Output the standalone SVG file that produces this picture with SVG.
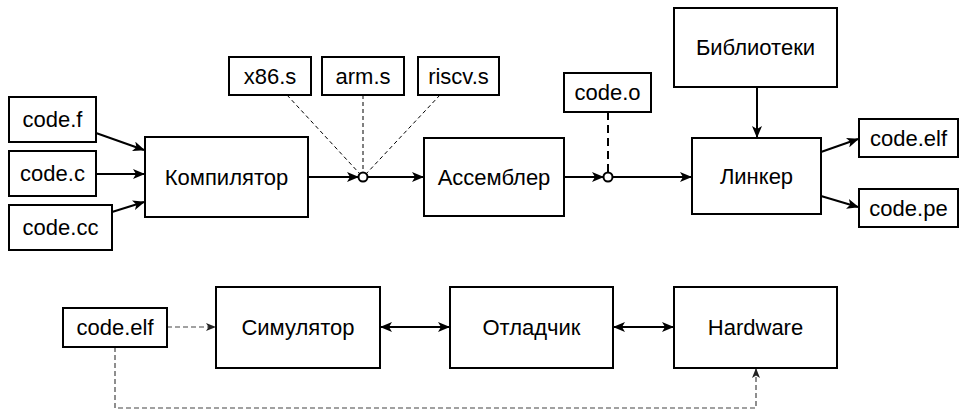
<svg xmlns="http://www.w3.org/2000/svg" width="961" height="411" viewBox="0 0 961 411">
<style>
.box{fill:#fff;stroke:#000;stroke-width:2}
.t{font-family:"Liberation Sans",Arial,sans-serif;font-size:22px;fill:#000;text-anchor:middle;dominant-baseline:central}
.a{fill:none;stroke:#000;stroke-width:2}
.d{fill:none;stroke:#000;stroke-width:1;stroke-dasharray:4 3}
.dd{fill:none;stroke:#000;stroke-width:2;stroke-dasharray:8 5}
.gd{fill:none;stroke:#444;stroke-width:1.2;stroke-dasharray:5 3}
.j{fill:#fff;stroke:#000;stroke-width:2}
</style>
<defs>
<marker id="ar" viewBox="0 0 12 10" refX="11" refY="5" markerWidth="12" markerHeight="10" markerUnits="userSpaceOnUse" orient="auto-start-reverse">
<path d="M0,0 L12,5 L0,10 L3,5 Z" fill="#000"/>
</marker>
<marker id="ars" viewBox="0 0 10 8" refX="9" refY="4" markerWidth="10" markerHeight="8" markerUnits="userSpaceOnUse" orient="auto-start-reverse">
<path d="M0,0 L10,4 L0,8 L2.5,4 Z" fill="#222"/>
</marker>
</defs>
<g id="connectors">
<line class="a" x1="96" y1="133" x2="144" y2="150" marker-end="url(#ar)"/>
<line class="a" x1="96" y1="174" x2="144" y2="174" marker-end="url(#ar)"/>
<line class="a" x1="112" y1="212" x2="144" y2="202" marker-end="url(#ar)"/>
<line class="a" x1="308" y1="177" x2="358" y2="177" marker-end="url(#ar)"/>
<line class="a" x1="368" y1="177" x2="423" y2="177" marker-end="url(#ar)"/>
<line class="d" x1="287" y1="95" x2="360" y2="174"/>
<line class="d" x1="363" y1="95" x2="363" y2="172"/>
<line class="d" x1="440" y1="95" x2="366" y2="174"/>
<line class="a" x1="564" y1="177" x2="603" y2="177" marker-end="url(#ar)"/>
<line class="a" x1="613" y1="177" x2="691" y2="177" marker-end="url(#ar)"/>
<line class="dd" x1="608" y1="112" x2="608" y2="172"/>
<line class="a" x1="757" y1="87" x2="757" y2="137" marker-end="url(#ar)"/>
<line class="a" x1="821" y1="152" x2="858" y2="139" marker-end="url(#ar)"/>
<line class="a" x1="821" y1="196" x2="858" y2="207" marker-end="url(#ar)"/>
<line class="gd" x1="167" y1="327" x2="215" y2="327" marker-end="url(#ars)"/>
<line class="a" x1="381" y1="327" x2="449" y2="327" marker-start="url(#ar)" marker-end="url(#ar)"/>
<line class="a" x1="614" y1="327" x2="673" y2="327" marker-start="url(#ar)" marker-end="url(#ar)"/>
<polyline class="gd" points="115,347 115,408 756,408 756,369" marker-end="url(#ars)"/>
<circle class="j" cx="363" cy="177" r="4.5"/>
<circle class="j" cx="608" cy="177" r="4.5"/>
</g>
<g id="code_f"><rect class="box" x="9" y="97" width="87" height="45"/><text class="t" x="52.5" y="119.5">code.f</text></g>
<g id="code_c"><rect class="box" x="9" y="151" width="87" height="45"/><text class="t" x="52.5" y="173.5">code.c</text></g>
<g id="code_cc"><rect class="box" x="9" y="205" width="103" height="45"/><text class="t" x="60.5" y="227.5">code.cc</text></g>
<g id="compiler"><rect class="box" x="145" y="137" width="163" height="80"/><text class="t" x="226.5" y="177">Компилятор</text></g>
<g id="x86"><rect class="box" x="229" y="57" width="82" height="38"/><text class="t" x="270" y="76">x86.s</text></g>
<g id="arm"><rect class="box" x="322" y="57" width="82" height="38"/><text class="t" x="363" y="76">arm.s</text></g>
<g id="riscv"><rect class="box" x="418" y="57" width="81" height="38"/><text class="t" x="458.5" y="76">riscv.s</text></g>
<g id="assembler"><rect class="box" x="424" y="138" width="140" height="78"/><text class="t" x="494" y="177">Ассемблер</text></g>
<g id="code_o"><rect class="box" x="564" y="73" width="87" height="39"/><text class="t" x="607.5" y="92.5">code.o</text></g>
<g id="libs"><rect class="box" x="674" y="8" width="163" height="79"/><text class="t" x="755.5" y="47.5">Библиотеки</text></g>
<g id="linker"><rect class="box" x="692" y="138" width="129" height="76"/><text class="t" x="756.5" y="176">Линкер</text></g>
<g id="code_elf"><rect class="box" x="859" y="119" width="99" height="38"/><text class="t" x="908.5" y="138">code.elf</text></g>
<g id="code_pe"><rect class="box" x="859" y="189" width="99" height="38"/><text class="t" x="908.5" y="208">code.pe</text></g>
<g id="code_elf2"><rect class="box" x="63" y="308" width="104" height="39"/><text class="t" x="115" y="327.5">code.elf</text></g>
<g id="simulator"><rect class="box" x="216" y="287" width="164" height="81"/><text class="t" x="298" y="327.5">Симулятор</text></g>
<g id="debugger"><rect class="box" x="450" y="287" width="163" height="81"/><text class="t" x="531.5" y="327.5">Отладчик</text></g>
<g id="hardware"><rect class="box" x="674" y="287" width="163" height="81"/><text class="t" x="755.5" y="327.5">Hardware</text></g>
</svg>
